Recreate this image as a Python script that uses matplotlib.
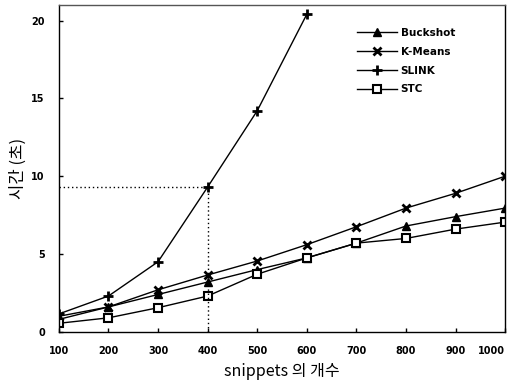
import matplotlib.pyplot as plt

plt.rcParams['font.family'] = ['Noto Sans CJK KR', 'DejaVu Sans']

snippets = [100, 200, 300, 400, 500, 600, 700, 800, 900, 1000]
tick_labels = ['100', '200', '300', '400', '500', '600', '700', '800', '900', '1000']
buckshot = [0.8, 1.6, 2.4, 3.2, 4.0, 4.75, 5.7, 6.8, 7.4, 7.95]
kmeans = [1.0, 1.6, 2.7, 3.65, 4.55, 5.6, 6.75, 7.95, 8.9, 10.0]
slink_x = [100, 200, 300, 400, 500, 600]
slink = [1.15, 2.3, 4.5, 9.3, 14.2, 20.4]
stc = [0.55, 0.9, 1.55, 2.3, 3.7, 4.75, 5.7, 6.0, 6.6, 7.05]
mark_x = 400
mark_y = 9.3

fig = plt.figure(figsize=(5.16, 3.81), dpi=100)
ax = fig.add_axes([0.114, 0.129, 0.865, 0.858])

ax.plot(snippets, buckshot, color='black', lw=1, marker='^', ms=5.5, label='Buckshot')
ax.plot(snippets, kmeans, color='black', lw=1, marker='x', ms=6, mew=2, label='K-Means')
ax.plot(slink_x, slink, color='black', lw=1, marker='+', ms=7, mew=2, label='SLINK')
ax.plot(snippets, stc, color='black', lw=1, marker='s', ms=5.5, mfc='white', mew=1.5, label='STC')

# dotted guide to the SLINK point at 400
ax.plot([snippets[0], mark_x], [mark_y, mark_y], color='black', lw=1, ls=(0, (1, 2)))
ax.plot([mark_x, mark_x], [0, mark_y], color='black', lw=1, ls=(0, (1, 2)))

ax.set_xlim(100, 1000)
ax.set_ylim(0, 21)
ax.set_xticks(snippets)
ax.set_xticklabels(tick_labels)
ax.set_yticks([0, 5, 10, 15, 20])
ax.tick_params(direction='in', length=3, width=1, labelsize=7, pad=10)
for lab in ax.get_xticklabels() + ax.get_yticklabels():
    lab.set_fontweight('bold')
    lab.set_family(['DejaVu Sans'])
ax.get_xticklabels()[-1].set_horizontalalignment('right')

for s in ax.spines.values():
    s.set_linewidth(1)
ax.spines['top'].set_color('#555555')

ax.set_xlabel('snippets 의 개수', fontsize=11.5, labelpad=5)
ax.set_ylabel('시간 (초)', fontsize=12, labelpad=3)

leg = ax.legend(loc='upper left', bbox_to_anchor=(0.668, 0.93), frameon=False,
                borderaxespad=0, borderpad=0,
                fontsize=7.5, handlelength=3.8, labelspacing=0.85, handletextpad=0.4)
for t in leg.get_texts():
    t.set_fontweight('bold')
    t.set_family(['DejaVu Sans'])

fig.savefig('out.png', dpi=100)
